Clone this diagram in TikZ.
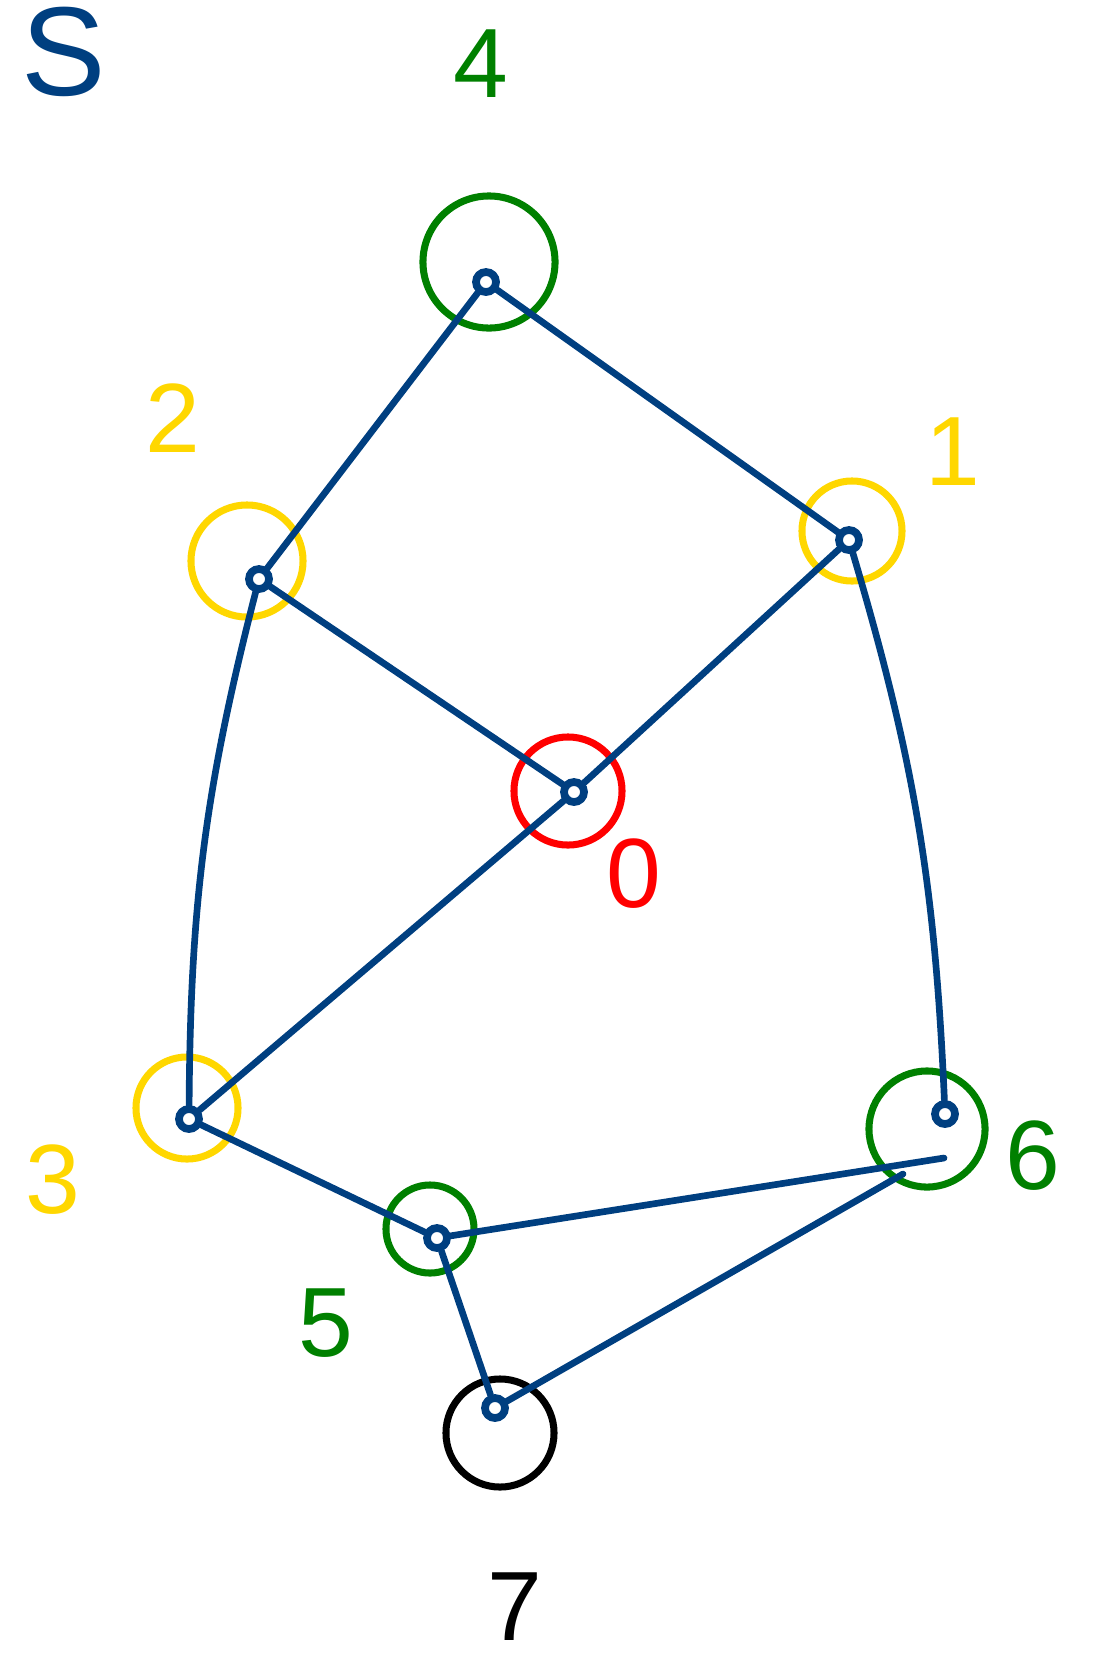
\documentclass[tikz,border=0pt]{standalone}
\usepackage{fontspec}
\setmainfont{Liberation Sans}
\definecolor{GBLUE}{HTML}{003F80}
\definecolor{GGREEN}{HTML}{008000}
\definecolor{GYELLOW}{HTML}{FFD700}
\definecolor{GRED}{HTML}{FF0000}
\usetikzlibrary{calc,positioning}

\begin{document}
\begin{tikzpicture}[
  x=0.01cm, y=-0.01cm,
  %% Coloured rings round each vertex
  ring/.style={
    circle, draw=#1, line width=2pt, inner sep=0pt
  },
  %% Small blue loop marking the vertex itself
  dot/.style={
    circle, draw=GBLUE, line width=2.2pt, minimum size=0.2cm, inner sep=0pt
  },
  %% Vertex numbers
  lbl/.style={
    text=#1, font=\fontsize{28}{28}\selectfont, inner sep=0pt
  },
  edge/.style={GBLUE, line width=1.9pt, line cap=round}
]
\useasboundingbox (0,0) rectangle (1102,1666);

%% ── Rings ────────────────────────────────────────────────────
\node[ring=GGREEN,  minimum size=1.32cm] (r4) at (489, 262) {};
\node[ring=GYELLOW, minimum size=1.12cm] (r2) at (247, 561) {};
\node[ring=GYELLOW, minimum size=1.00cm] (r1) at (852, 531) {};
\node[ring=GRED,    minimum size=1.08cm] (r0) at (568, 791) {};
\node[ring=GYELLOW, minimum size=1.02cm] (r3) at (187,1108) {};
\node[ring=GGREEN,  minimum size=1.16cm] (r6) at (927,1129) {};
\node[ring=GGREEN,  minimum size=0.88cm] (r5) at (430,1229) {};
\node[ring=black,   minimum size=1.08cm] (r7) at (500,1433) {};

%% ── Vertices ─────────────────────────────────────────────────
\node[dot] (d4) at (486, 282) {};
\node[dot] (d2) at (259, 579) {};
\node[dot] (d1) at (849, 540) {};
\node[dot] (d0) at (574, 792) {};
\node[dot] (d3) at (189,1119) {};
\node[dot] (d6) at (945,1114) {};
\node[dot] (d5) at (437,1238) {};
\node[dot] (d7) at (495,1408) {};

%% ends of the two lower edges at vertex 6
\coordinate (e6a) at (944,1158);
\coordinate (e6b) at (903,1174);

%% ── Edges ────────────────────────────────────────────────────
\draw[edge] (d4) -- (d2);
\draw[edge] (d4) -- (d1);
\draw[edge] (d2) -- (d0);
\draw[edge] (d1) -- (d0);
\draw[edge] (d2) to[bend right=7] (d3);
\draw[edge] (d1) to[bend left=7] (d6);
\draw[edge] (d0) -- (d3);
\draw[edge] (d3) -- (d5);
\draw[edge] (d5) -- (e6a);
\draw[edge] (d5) -- (d7);
\draw[edge] (e6b) -- (d7);

%% ── Labels ───────────────────────────────────────────────────
\node[lbl=GBLUE, font=\fontsize{36}{36}\selectfont] (ls) at (64, 52) {S};
\node[lbl=GGREEN]  (l4) at ( 481,  64) {4};
\node[lbl=GYELLOW] (l2) at ( 173, 418) {2};
\node[lbl=GYELLOW] (l1) at ( 953, 452) {1};
\node[lbl=GRED]    (l0) at ( 634, 874) {0};
\node[lbl=GYELLOW] (l3) at (  53,1180) {3};
\node[lbl=GGREEN]  (l6) at (1033,1156) {6};
\node[lbl=GGREEN]  (l5) at ( 326,1323) {5};
\node[lbl=black]   (l7) at ( 515,1607) {7};

\end{tikzpicture}
\end{document}
